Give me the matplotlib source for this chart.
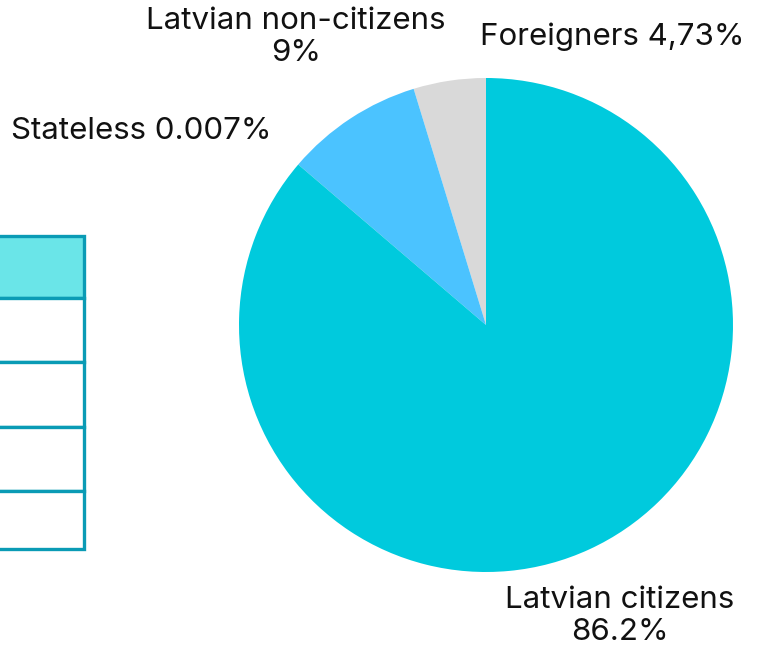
import matplotlib.pyplot as plt
from matplotlib.patches import Rectangle

# population of Latvia by citizenship status
groups = ["Foreigners", "Latvian non-citizens", "Stateless", "Latvian citizens"]
shares = [4.73, 9.0, 0.007, 86.2]
colors = ["#D9D9D9", "#4BC3FF", "#00A3C4", "#00CADD"]
labels = ["Foreigners 4,73%", "Latvian non-citizens\n9%", "Stateless 0.007%",
          "Latvian citizens\n86.2%"]

W, H = 758, 647
plt.rcParams['font.family'] = ['Inter', 'DejaVu Sans']

fig = plt.figure(figsize=(W / 100, H / 100), dpi=100)
ax = fig.add_axes([0, 0, 1, 1])

# pie, counter-clockwise from the top
ax.pie(shares, colors=colors, startangle=90, counterclock=True,
       center=(486, H - 325), radius=247, frame=True,
       wedgeprops=dict(linewidth=0))
ax.set_xlim(0, W)
ax.set_ylim(0, H)
ax.set_aspect('equal')
ax.axis('off')

# labels
txt = dict(fontsize=22.5, color="#111111", ha='center', va='center', linespacing=1.22)
ax.text(612, H - 37, labels[0], **txt)
ax.text(296, H - 37, labels[1], **txt)
ax.text(141, H - 131, labels[2], **txt)
ax.text(620, H - 616, labels[3], **txt)

# edge of the table beside the chart
row_edges = [236, 298, 362, 427, 491, 549]
for i in range(len(row_edges) - 1):
    top, bot = row_edges[i], row_edges[i + 1]
    ax.add_patch(Rectangle((-10, H - bot), 94, bot - top,
                           facecolor="#6AE5E8" if i == 0 else "white",
                           edgecolor="#0A9BB5", linewidth=2.4, zorder=3))

fig.savefig("out.png", dpi=100)
